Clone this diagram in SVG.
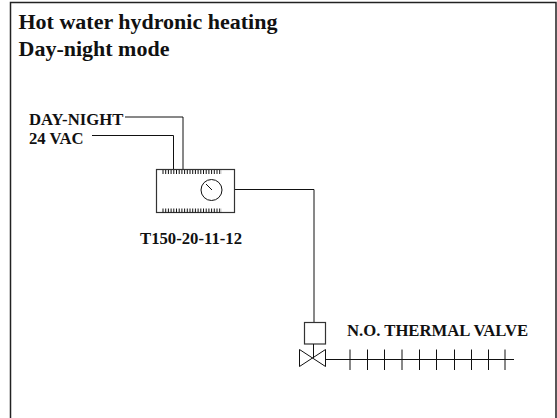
<svg xmlns="http://www.w3.org/2000/svg" width="557" height="418" viewBox="0 0 557 418">
<style>
text{font-family:"Liberation Serif","Times New Roman",serif;font-weight:bold;fill:#111}
.t{font-size:22px}
.l{font-size:16.700px}
.s{fill:none;stroke:#111;stroke-width:1}
.g{fill:none;stroke:#333;stroke-width:1.2}
</style>
<rect width="557" height="418" fill="#fff"/>
<path id="frame" d="M10.500 420V2.500H556V420" fill="none" stroke="#222" stroke-width="1.500"/>
<g id="title">
<text class="t" x="18.500" y="28.500">Hot water hydronic heating</text>
<text class="t" x="18.500" y="56">Day-night mode</text>
</g>
<g id="connectors">
<path class="s" d="M125 117H183V170"/>
<path class="s" d="M92 135.500H173.500V170"/>
<path class="s" d="M235 189.500H314V323"/>
</g>
<g id="labels">
<text class="l" x="29" y="125">DAY-NIGHT</text>
<text class="l" x="29" y="144">24 VAC</text>
</g>
<g id="thermostat">
<rect class="g" x="156.500" y="169.500" width="78" height="43"/>
<path class="s" stroke-dasharray="1 1.700" d="M162.500 172H222M162.500 210.500H222" style="stroke-width:4"/>
<circle class="s" cx="211.500" cy="190" r="10.500"/>
<path class="s" d="M206 184L212 190"/>
<text class="l" x="140" y="244">T150-20-11-12</text>
</g>
<g id="valve">
<rect class="g" x="304.500" y="322.500" width="21" height="21.500"/>
<path class="s" d="M313.500 344V358M299.500 349.500L325.500 366.500V349.500L299.500 366.500Z"/>
<path class="s" d="M325.500 359.500H514M350 349.500V370M367.500 349.500V370M384.500 349.500V370M402 349.500V370M419.500 349.500V370M436.500 349.500V370M454.500 349.500V370M471.500 349.500V370M488.500 349.500V370M505 349.500V370"/>
<text class="l" x="347" y="336">N.O. THERMAL VALVE</text>
</g>
</svg>
